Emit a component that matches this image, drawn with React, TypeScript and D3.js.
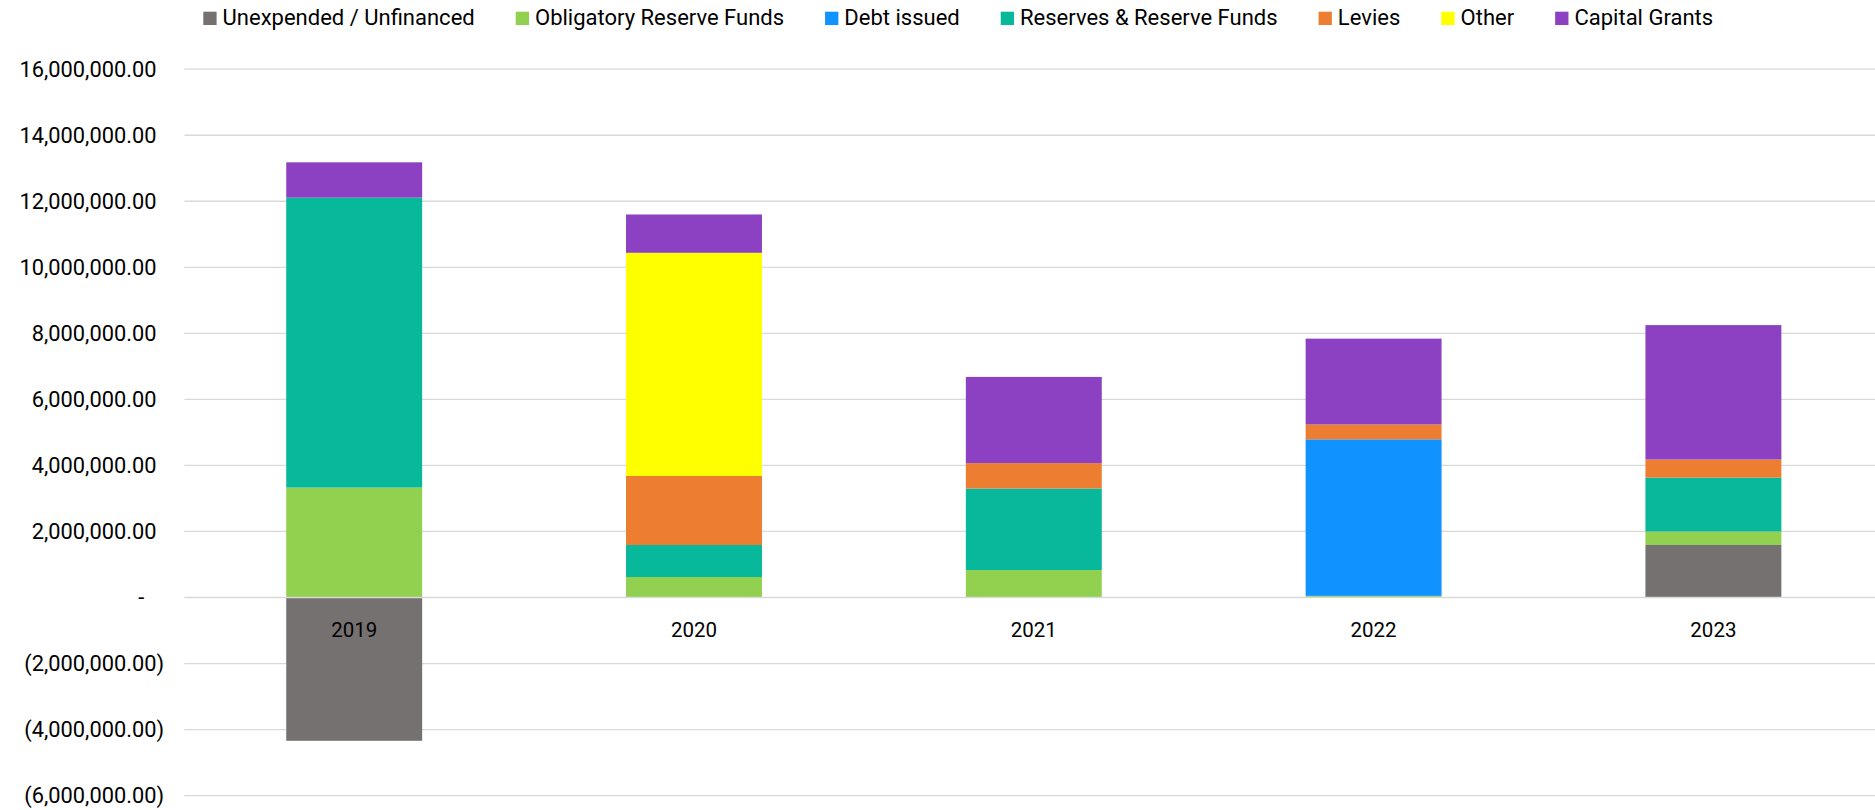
import React, { useEffect, useRef } from "react";
import * as d3 from "d3";

const categories = ["2019", "2020", "2021", "2022", "2023"];
const seriesNames = [
  "Unexpended / Unfinanced",
  "Obligatory Reserve Funds",
  "Debt issued",
  "Reserves & Reserve Funds",
  "Levies",
  "Other",
  "Capital Grants",
];
const unexpended = [-4340000, 0, 0, 0, 1590000];
const obligatory = [3330000, 620000, 830000, 50000, 410000];
const debtIssued = [0, 0, 0, 4740000, 0];
const reserves = [8780000, 970000, 2470000, 0, 1630000];
const levies = [0, 2090000, 770000, 450000, 550000];
const other = [0, 6760000, 0, 0, 0];
const capitalGrants = [1070000, 1160000, 2610000, 2600000, 4070000];
const yTicks = [-6000000, -4000000, -2000000, 0, 2000000, 4000000, 6000000, 8000000, 10000000, 12000000, 14000000, 16000000];

const colors = ["#767171", "#92D050", "#1092FF", "#07B89A", "#ED7D31", "#FFFF00", "#8B41C2"];

export default function App() {
  const ref = useRef<SVGSVGElement>(null);
  useEffect(() => {
    const svg = d3.select(ref.current);
    svg.selectAll("*").remove();
    const W = 1875;
    const font = "Roboto, 'Open Sans', Arial, sans-serif";
    const y = d3.scaleLinear().domain([-6000000, 16000000]).range([795.6, 69.2]);
    const x = d3.scaleBand<string>().domain(categories).range([184.3, 1883.3]).paddingInner(0.6).paddingOuter(0.3);

    const allSeries = [unexpended, obligatory, debtIssued, reserves, levies, other, capitalGrants];
    const rows = categories.map((c, i) => {
      const r: any = { cat: c };
      seriesNames.forEach((n, k) => (r[n] = allSeries[k][i]));
      return r;
    });
    const stacked = d3.stack<any>().keys(seriesNames).offset(d3.stackOffsetDiverging)(rows);

    // gridlines
    svg.append("g").selectAll("line").data(yTicks.filter((t) => t !== 0)).join("line")
      .attr("x1", 184.3).attr("x2", W).attr("y1", (d) => y(d)).attr("y2", (d) => y(d))
      .attr("stroke", "#D9D9D9").attr("stroke-width", 1.3);

    // bars
    const g = svg.append("g");
    stacked.forEach((s, k) => {
      g.append("g").attr("fill", colors[k]).selectAll("rect").data(s).join("rect")
        .attr("x", (d: any) => x(d.data.cat)!)
        .attr("width", x.bandwidth())
        .attr("y", (d: any) => y(Math.max(d[0], d[1])))
        .attr("height", (d: any) => Math.abs(y(d[0]) - y(d[1])));
    });

    // zero line
    svg.append("line").attr("x1", 184.3).attr("x2", W).attr("y1", y(0)).attr("y2", y(0))
      .attr("stroke", "#D9D9D9").attr("stroke-width", 1.3);

    // y tick labels
    const fmt = d3.format(",.2f");
    const yl = svg.append("g").attr("font-family", font).attr("font-size", 21.8).attr("fill", "#000");
    yTicks.forEach((t) => {
      const txt = yl.append("text").attr("x", 164).attr("y", y(t)).attr("dy", "0.355em").attr("text-anchor", "end");
      if (t > 0) {
        txt.append("tspan").text(fmt(t));
        txt.append("tspan").attr("fill", "transparent").text(")");
      } else if (t < 0) {
        txt.text("(" + fmt(-t) + ")");
      } else {
        txt.append("tspan").text("-");
        txt.append("tspan").attr("fill", "transparent").text("0)");
      }
    });

    // x labels
    svg.append("g").attr("font-family", font).attr("font-size", 20.5).attr("fill", "#000")
      .selectAll("text").data(categories).join("text")
      .attr("x", (d) => x(d)! + x.bandwidth() / 2).attr("y", y(0) + 39.5)
      .attr("text-anchor", "middle").text((d) => d);

    // legend
    const lg = svg.append("g").attr("font-family", font).attr("font-size", 22);
    const items = seriesNames.map((n, k) => {
      const it = lg.append("g");
      it.append("rect").attr("x", 0).attr("y", 11.7).attr("width", 13.3).attr("height", 13.3).attr("fill", colors[k]);
      const t = it.append("text").attr("x", 19.3).attr("y", 25).attr("fill", "#000").text(n);
      const w = (t.node() as SVGTextElement).getComputedTextLength();
      return { it, w: 19.3 + w };
    });
    const gap = 41;
    const total = d3.sum(items, (d) => d.w) + gap * (items.length - 1);
    let cx = 958.2 - total / 2;
    items.forEach((d) => {
      d.it.attr("transform", `translate(${cx},0)`);
      cx += d.w + gap;
    });
  }, []);
  return (
    <svg ref={ref} width={1875} height={810} style={{ position: "absolute", left: 0, top: 0, background: "#fff" }} />
  );
}
